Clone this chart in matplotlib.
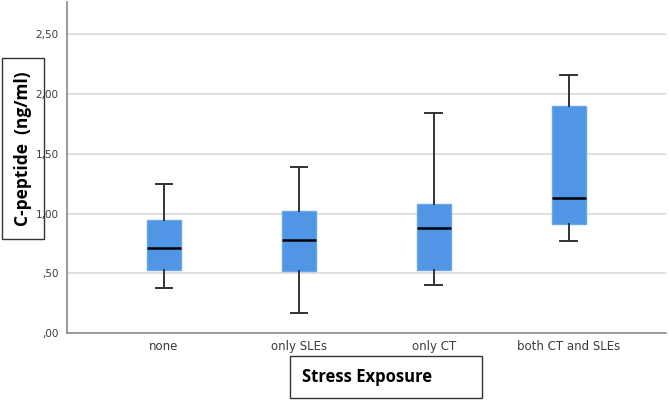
import numpy as np
import matplotlib
matplotlib.use("Agg")
import matplotlib.pyplot as plt
from matplotlib.patches import Rectangle
from matplotlib.ticker import FuncFormatter

# box plot summary values
groups = ["none", "only SLEs", "only CT", "both CT and SLEs"]
whisk_lo = [0.38, 0.17, 0.40, 0.77]
q1 = [0.53, 0.52, 0.53, 0.91]
median = [0.71, 0.78, 0.88, 1.13]
q3 = [0.95, 1.02, 1.08, 1.90]
whisk_hi = [1.25, 1.39, 1.84, 2.16]
yticks = [0.0, 0.5, 1.0, 1.5, 2.0, 2.5]

stats = []
for i, g in enumerate(groups):
    stats.append(dict(label=g, whislo=whisk_lo[i], q1=q1[i], med=median[i],
                      q3=q3[i], whishi=whisk_hi[i], fliers=[]))

fig = plt.figure(figsize=(6.69, 4.01), dpi=100)
ax = fig.add_axes([0.1, 0.169, 0.8955, 0.826])

for y in yticks[1:]:
    ax.axhline(y, color="#d9d9d9", lw=1.2, zorder=0)

ax.bxp(stats, positions=np.arange(1, len(groups) + 1), widths=0.25,
       patch_artist=True, showfliers=False,
       boxprops=dict(facecolor="#5195e5", edgecolor="#6aa6ea", lw=1),
       medianprops=dict(color="black", lw=1.8),
       whiskerprops=dict(color="#333333", lw=1.4),
       capprops=dict(color="#333333", lw=1.4), capwidths=0.125)

ax.set_xlim(0.28, 4.72)
ax.set_ylim(0, 2.77)
ax.set_yticks(yticks)
ax.yaxis.set_major_formatter(FuncFormatter(
    lambda v, p: ("%.2f" % v).lstrip("0").replace(".", ",")))
ax.tick_params(length=0, labelsize=8.5, labelcolor="#3a3a3a")
ax.tick_params(axis="y", labelsize=7.5, pad=6)
ax.tick_params(axis="x", pad=5)
for s in ["top", "right"]:
    ax.spines[s].set_visible(False)
for s in ["left", "bottom"]:
    ax.spines[s].set_color("#888888")
    ax.spines[s].set_linewidth(1.2)

# boxed axis titles
fig.patches.append(Rectangle((2 / 669, 1 - 239 / 401), 42 / 669, 181 / 401,
                             transform=fig.transFigure, fill=False,
                             ec="#333333", lw=1))
fig.text(23 / 669, 1 - 148.5 / 401, "C-peptide  (ng/ml)", rotation=90,
         ha="center", va="center", fontsize=12.5, fontweight="bold",
         family="Open Sans")
fig.patches.append(Rectangle((290 / 669, 1 - 398 / 401), 192 / 669, 42 / 401,
                             transform=fig.transFigure, fill=False,
                             ec="#333333", lw=1))
fig.text(367 / 669, 1 - 377 / 401, "Stress Exposure", ha="center",
         va="center", fontsize=12, fontweight="bold", family="Open Sans")

fig.savefig("out.png", dpi=100)
